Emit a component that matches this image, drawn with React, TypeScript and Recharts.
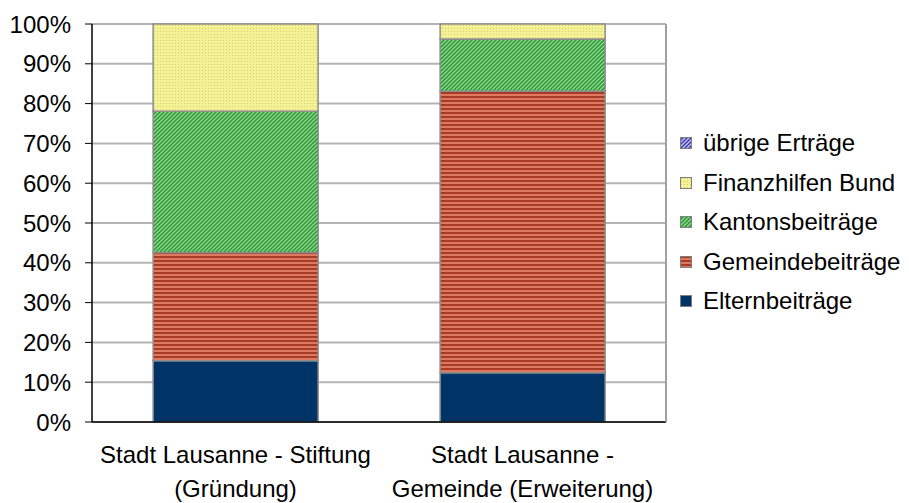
import React from 'react';
import { BarChart, Bar, XAxis, YAxis, CartesianGrid } from 'recharts';

const categories = ['Stadt Lausanne - Stiftung (Gründung)', 'Stadt Lausanne - Gemeinde (Erweiterung)'];
const categoryLines = [
  ['Stadt Lausanne - Stiftung', '(Gründung)'],
  ['Stadt Lausanne -', 'Gemeinde (Erweiterung)'],
];
const elternbeitraege = [15.4, 12.4];
const gemeindebeitraege = [27.2, 70.7];
const kantonsbeitraege = [35.5, 13.1];
const finanzhilfenBund = [21.9, 3.8];
const uebrigeErtraege = [0, 0];
const yTicks = [0, 10, 20, 30, 40, 50, 60, 70, 80, 90, 100];

const series = [
  { key: 'eltern', name: 'Elternbeiträge', values: elternbeitraege, fill: '#003366' },
  { key: 'gemeinde', name: 'Gemeindebeiträge', values: gemeindebeitraege, fill: 'url(#patRed)' },
  { key: 'kanton', name: 'Kantonsbeiträge', values: kantonsbeitraege, fill: 'url(#patGreen)' },
  { key: 'bund', name: 'Finanzhilfen Bund', values: finanzhilfenBund, fill: 'url(#patYellow)' },
  { key: 'uebrige', name: 'übrige Erträge', values: uebrigeErtraege, fill: 'url(#patBlue)' },
];

const data = categories.map((c, i) => {
  const row: Record<string, any> = { name: c, idx: i };
  series.forEach((s) => {
    row[s.key] = s.values[i];
  });
  return row;
});

const FONT = '"Liberation Sans", Arial, sans-serif';

const XTick = (props: any) => {
  const { x, y, payload } = props;
  const lines = categoryLines[payload.index] || [String(payload.value)];
  return (
    <text x={x} y={y} textAnchor="middle" fontSize={24} fill="#000" fontFamily={FONT}>
      {lines.map((l, i) => (
        <tspan key={i} x={x} y={y + 41 + i * 34}>
          {l}
        </tspan>
      ))}
    </text>
  );
};

export default function App() {
  const legendItems = [...series].reverse();
  return (
    <div style={{ position: 'absolute', left: 0, top: 0, width: 909, height: 503, background: '#fff', fontFamily: FONT }}>
      <BarChart
        width={909}
        height={503}
        data={data}
        margin={{ top: 24, right: 242, bottom: 21, left: 0 }}
        barCategoryGap="21.3%"
      >
        <defs>
          <pattern id="patRed" width="4" height="4" patternUnits="userSpaceOnUse">
            <rect width="4" height="4" fill="#DC7A60" />
            <rect width="4" height="2" fill="#A83A28" />
          </pattern>
          <pattern id="patGreen" width="4" height="4" patternUnits="userSpaceOnUse">
            <rect width="4" height="4" fill="#9EE096" />
            <path d="M-1,1 l2,-2 M0,4 l4,-4 M3,5 l2,-2" stroke="#2E9A3C" strokeWidth="1.6" />
          </pattern>
          <pattern id="patYellow" width="3" height="3" patternUnits="userSpaceOnUse">
            <rect width="3" height="3" fill="#F4F294" />
            <rect x="1" y="1" width="1" height="1" fill="#D2CE76" />
          </pattern>
          <pattern id="patBlue" width="4" height="4" patternUnits="userSpaceOnUse">
            <rect width="4" height="4" fill="#C8C8F0" />
            <path d="M-1,1 l2,-2 M0,4 l4,-4 M3,5 l2,-2" stroke="#3A3AB8" strokeWidth="1.5" />
          </pattern>
        </defs>
        <CartesianGrid vertical={false} stroke="#B4B4B4" strokeWidth={2} yAxisId="l" />
        <XAxis
          dataKey="name"
          height={60}
          tickLine={false}
          tickSize={0}
          tickMargin={0}
          axisLine={{ stroke: '#000', strokeWidth: 1.5 }}
          tick={<XTick />}
          interval={0}
        />
        <YAxis
          yAxisId="l"
          width={92}
          domain={[0, 100]}
          ticks={yTicks}
          interval={0}
          tickFormatter={(v: number) => `${v}%`}
          tickSize={7}
          tickMargin={14}
          tickLine={{ stroke: '#000' }}
          axisLine={{ stroke: '#000', strokeWidth: 1.5 }}
          tick={{ fontSize: 24, fill: '#000', fontFamily: FONT }}
        />
        <YAxis
          yAxisId="r"
          orientation="right"
          width={1}
          domain={[0, 100]}
          ticks={yTicks}
          tick={false}
          tickLine={false}
          axisLine={{ stroke: '#A0A0A0', strokeWidth: 2 }}
        />
        {series.map((s) => (
          <Bar
            key={s.key}
            dataKey={s.key}
            name={s.name}
            stackId="a"
            yAxisId="l"
            fill={s.fill}
            stroke="#8C8C8C"
            strokeWidth={1.5}
            isAnimationActive={false}
          />
        ))}
      </BarChart>
      {legendItems.map((s, i) => (
        <div
          key={s.key}
          style={{
            position: 'absolute',
            left: 680,
            top: 143 + i * 39.6 - 15,
            height: 30,
            display: 'flex',
            alignItems: 'center',
            fontSize: 24,
            lineHeight: '30px',
            color: '#000',
            whiteSpace: 'nowrap',
          }}
        >
          <svg width={12} height={12} style={{ marginRight: 11 }}>
            <rect x={0.5} y={0.5} width={11} height={11} fill={s.fill} stroke="#808080" strokeWidth={1} />
          </svg>
          <span>{s.name}</span>
        </div>
      ))}
    </div>
  );
}
